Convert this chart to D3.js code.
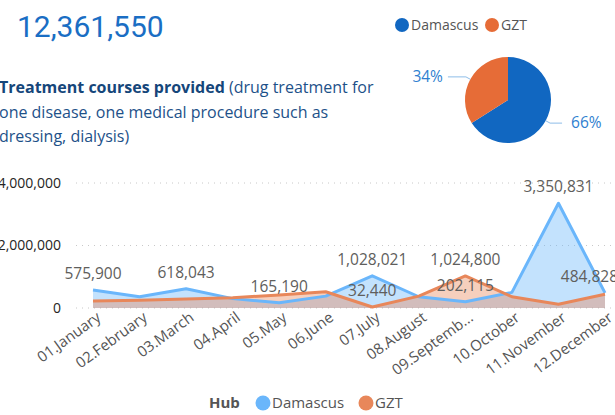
<!DOCTYPE html>
<html>
<head>
<meta charset="utf-8">
<script src="https://cdn.jsdelivr.net/npm/d3@7"></script>
<style>
  body { margin: 0; background: #fff; }
  svg { display: block; font-family: "Open Sans", "Noto Sans", sans-serif; }
</style>
</head>
<body>
<div id="chart"></div>
<script>
// chart values
var months = ["01.January", "02.February", "03.March", "04.April", "05.May", "06.June",
              "07.July", "08.August", "09.September", "10.October", "11.November", "12.December"];
var damascus = [575900, 360000, 618043, 300000, 165190, 380000, 1028021, 360000, 202115, 500000, 3350831, 484828];
var gzt = [224000, 245000, 290000, 330000, 415000, 520000, 32440, 380000, 1024800, 360000, 120000, 440000];
var labelsDamascus = [0, 2, 4, 6, 8, 10, 11];   // months with a data label shown
var labelsGzt = [6, 8];
var yTicks = [0, 2000000, 4000000];
var hubs = ["Damascus", "GZT"];
var total = "12,361,550";
var sharePct = [66, 34];

var W = 615, H = 415;
var svg = d3.select("#chart").append("svg")
    .attr("width", W)
    .attr("height", H);

var fmt = d3.format(",");

// big number card
svg.append("text")
    .attr("x", 17)
    .attr("y", 37)
    .attr("font-family", "Roboto")
    .attr("font-size", "30px")
    .attr("fill", "#1a6ec4")
    .text(total);

// description
var desc = svg.append("text")
    .attr("font-size", "16px")
    .attr("fill", "#1d5189");
var l1 = desc.append("tspan").attr("x", -1).attr("y", 93);
l1.append("tspan").attr("font-weight", "bold").attr("fill", "#15467a").text("Treatment courses provided");
l1.append("tspan").text(" (drug treatment for");
desc.append("tspan").attr("x", -1).attr("y", 118).text("one disease, one medical procedure such as");
desc.append("tspan").attr("x", -1).attr("y", 142).text("dressing, dialysis)");

// ---- pie ----
var pieColors = ["#1167c1", "#e66c37"];
var pieData = d3.pie().sort(null)(sharePct);
var arc = d3.arc().innerRadius(0).outerRadius(43);
var pieG = svg.append("g").attr("transform", "translate(508,100)");
pieG.selectAll("path")
    .data(pieData)
    .enter()
    .append("path")
    .attr("d", arc)
    .attr("fill", function(d, i) { return pieColors[i]; });

// pie leader lines + labels
pieData.forEach(function(d, i) {
    var mid = (d.startAngle + d.endAngle) / 2;
    var px = Math.sin(mid) * 43, py = -Math.cos(mid) * 43;
    var ex = Math.sin(mid) * 48, ey = -Math.cos(mid) * 48;
    var right = Math.sin(mid) > 0;
    var hx = right ? ex + 12 : ex - 18;
    pieG.append("path")
        .attr("d", "M" + px + "," + py + "L" + ex + "," + ey + "L" + hx + "," + ey)
        .attr("fill", "none")
        .attr("stroke", "#8dbde8")
        .attr("stroke-width", 1);
    pieG.append("text")
        .attr("x", right ? hx + 9 : hx - 5)
        .attr("y", ey + 5)
        .attr("text-anchor", right ? "start" : "end")
        .attr("font-size", "15.5px")
        .attr("fill", "#2f7fd0")
        .text(d.data + "%");
});

// pie legend
var pl = svg.append("g");
var plx = [402, 492];
hubs.forEach(function(h, i) {
    pl.append("circle").attr("cx", plx[i]).attr("cy", 25).attr("r", 7).attr("fill", pieColors[i]);
    pl.append("text")
        .attr("x", plx[i] + 9)
        .attr("y", 30)
        .attr("font-size", "14px")
        .attr("fill", "#555")
        .text(h);
});

// ---- area chart ----
var x = d3.scalePoint().domain(months).range([93, 605]);
var y = d3.scaleLinear().domain([0, 4000000]).range([308, 183]);

// gridlines
svg.append("g")
    .selectAll("line")
    .data(yTicks)
    .enter()
    .append("line")
    .attr("x1", 76)
    .attr("x2", W)
    .attr("y1", function(d) { return y(d); })
    .attr("y2", function(d) { return y(d); })
    .attr("stroke", "#c8c8c8")
    .attr("stroke-width", 1)
    .attr("stroke-dasharray", "1,5");

// y axis
var yAxis = svg.append("g")
    .attr("transform", "translate(61,0)")
    .call(d3.axisLeft(y).tickValues(yTicks).tickSize(0).tickPadding(0).tickFormat(fmt));
yAxis.select(".domain").remove();
yAxis.selectAll("text")
    .attr("font-family", "Open Sans")
    .attr("font-size", "14px")
    .attr("fill", "#252423");

// x axis
var xAxis = svg.append("g")
    .attr("transform", "translate(0,311)")
    .call(d3.axisBottom(x).tickSize(0).tickPadding(0).tickFormat(function(d) {
        return d.length > 11 ? d.slice(0, 10) + "..." : d;
    }));
xAxis.select(".domain").remove();
xAxis.selectAll("text")
    .attr("font-family", "Open Sans")
    .attr("font-size", "15px")
    .attr("fill", "#555")
    .attr("text-anchor", "end")
    .attr("dy", "0.71em")
    .attr("transform", "translate(2,0) rotate(-36)");

var seriesList = [
    { name: "Damascus", values: damascus, line: "#6ab6fb", labels: labelsDamascus },
    { name: "GZT", values: gzt, line: "#e8875a", labels: labelsGzt }
];

var area = d3.area()
    .x(function(d, i) { return x(months[i]); })
    .y0(y(0))
    .y1(function(d) { return y(d); });
var line = d3.line()
    .x(function(d, i) { return x(months[i]); })
    .y(function(d) { return y(d); });

seriesList.forEach(function(s) {
    svg.append("path")
        .datum(s.values)
        .attr("d", area)
        .attr("fill", s.line)
        .attr("fill-opacity", 0.4);
});
seriesList.forEach(function(s) {
    svg.append("path")
        .datum(s.values)
        .attr("d", line)
        .attr("fill", "none")
        .attr("stroke", s.line)
        .attr("stroke-width", 3)
        .attr("stroke-linejoin", "round");
});

// data labels
seriesList.forEach(function(s) {
    s.labels.forEach(function(i) {
        var t = svg.append("text")
            .attr("x", x(months[i]))
            .attr("y", y(s.values[i]) - 11)
            .attr("text-anchor", "middle")
            .attr("font-size", "15.5px")
            .attr("fill", "#605e5c")
            .text(fmt(s.values[i]));
        var bb = t.node().getBBox();
        if (bb.x + bb.width > W + 3) {
            t.attr("x", W + 3).attr("text-anchor", "end");
        }
    });
});

// bottom legend
var lg = svg.append("g");
lg.append("text")
    .attr("x", 209)
    .attr("y", 408)
    .attr("font-size", "15px")
    .attr("font-weight", "bold")
    .attr("fill", "#555")
    .text("Hub");
var lgx = [263, 366];
seriesList.forEach(function(s, i) {
    lg.append("circle").attr("cx", lgx[i]).attr("cy", 403).attr("r", 7.5).attr("fill", s.line);
    lg.append("text")
        .attr("x", lgx[i] + 9)
        .attr("y", 408)
        .attr("font-size", "15px")
        .attr("fill", "#555")
        .text(s.name);
});
</script>
</body>
</html>
